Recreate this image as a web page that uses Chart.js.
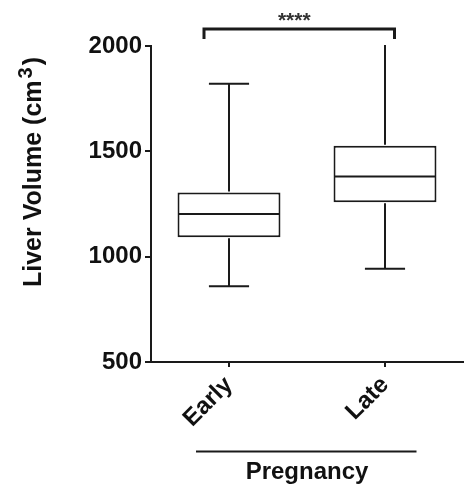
<!DOCTYPE html>
<html><head><meta charset="utf-8">
<script src="https://cdn.jsdelivr.net/npm/chart.js@4/dist/chart.umd.min.js"></script>
<style>html,body{margin:0;padding:0;background:#fff;}#wrap{width:464px;height:487px;}</style>
</head><body><div id="wrap"><canvas id="c" width="464" height="487"></canvas></div>
<script>
const categories = ['Early', 'Late'];
const whiskerMin = [860, 943];
const q1 = [1092, 1258];
const median = [1203, 1380];
const q3 = [1304, 1527];
const whiskerMax = [1821, 2020];
const yTicks = [500, 1000, 1500, 2000];
const yTitleMain = 'Liver Volume (cm';
const yTitleSup = '3';
const yTitleEnd = ')';
const xTitle = 'Pregnancy';
const significance = '****';

const FONT = "'Liberation Sans', Arial, Helvetica, sans-serif";
const INK = '#1a1a1a';

const boxPlugin = {
  id: 'boxWhiskers',
  afterDatasetsDraw(chart) {
    const {ctx, chartArea, scales} = chart;
    const y = scales.y;
    const meta = chart.getDatasetMeta(0);
    ctx.save();
    ctx.beginPath();
    ctx.rect(chartArea.left, chartArea.top - 1, chartArea.right - chartArea.left, chartArea.bottom - chartArea.top + 2);
    ctx.clip();
    ctx.strokeStyle = INK;
    ctx.lineWidth = 2;
    ctx.lineCap = 'butt';
    categories.forEach((c, i) => {
      const bar = meta.data[i];
      const cx = Math.round(bar.x);
      const half = bar.width / 2;
      const capHalf = bar.width * 0.195;
      const pMed = y.getPixelForValue(median[i]);
      const pQ1 = y.getPixelForValue(q1[i]);
      const pQ3 = y.getPixelForValue(q3[i]);
      const pMin = y.getPixelForValue(whiskerMin[i]);
      const pMax = y.getPixelForValue(whiskerMax[i]);
      ctx.beginPath();
      ctx.moveTo(cx - half + 1, pMed); ctx.lineTo(cx + half - 1, pMed);
      ctx.moveTo(cx, pQ3 - 1); ctx.lineTo(cx, pMax);
      ctx.moveTo(cx - capHalf, pMax); ctx.lineTo(cx + capHalf, pMax);
      ctx.moveTo(cx, pQ1 + 1); ctx.lineTo(cx, pMin);
      ctx.moveTo(cx - capHalf, pMin); ctx.lineTo(cx + capHalf, pMin);
      ctx.stroke();
    });
    ctx.restore();
  }
};

const annotPlugin = {
  id: 'annotations',
  afterDraw(chart) {
    const {ctx, chartArea, scales} = chart;
    const x = scales.x;
    const p0 = x.getPixelForValue(0);
    const p1 = x.getPixelForValue(1);
    ctx.save();
    ctx.strokeStyle = INK;
    // significance bracket
    const bx0 = p0 - 25, bx1 = p1 + 9.5;
    const by = chartArea.top - 17, legBottom = chartArea.top - 7;
    ctx.lineWidth = 3;
    ctx.lineJoin = 'miter';
    ctx.beginPath();
    ctx.moveTo(bx0, legBottom); ctx.lineTo(bx0, by); ctx.lineTo(bx1, by); ctx.lineTo(bx1, legBottom);
    ctx.stroke();
    ctx.fillStyle = '#333';
    ctx.font = 'bold 21px ' + FONT;
    ctx.textAlign = 'center';
    ctx.textBaseline = 'alphabetic';
    ctx.fillText(significance, (bx0 + bx1) / 2 - 5, chartArea.top - 19);
    // group line under category labels
    ctx.lineWidth = 2;
    ctx.beginPath();
    ctx.moveTo(p0 - 33, 451.5); ctx.lineTo(p1 + 31.5, 451.5);
    ctx.stroke();
    // y-axis title with superscript
    ctx.fillStyle = '#111';
    ctx.translate(41, 287);
    ctx.rotate(-Math.PI / 2);
    ctx.textAlign = 'left';
    ctx.font = 'bold 25px ' + FONT;
    const w1 = ctx.measureText(yTitleMain).width;
    ctx.fillText(yTitleMain, 0, 0);
    ctx.font = 'bold 20px ' + FONT;
    const w2 = ctx.measureText(yTitleSup).width;
    ctx.fillText(yTitleSup, w1 + 2, -9);
    ctx.font = 'bold 25px ' + FONT;
    ctx.fillText(yTitleEnd, w1 + w2 + 4, 0);
    ctx.restore();
  }
};

new Chart(document.getElementById('c'), {
  type: 'bar',
  data: {
    labels: categories,
    datasets: [{
      data: categories.map((c, i) => [q1[i], q3[i]]),
      backgroundColor: '#ffffff',
      borderColor: INK,
      borderWidth: 2,
      borderSkipped: false,
      barPercentage: 0.66,
      categoryPercentage: 1
    }]
  },
  options: {
    responsive: false,
    animation: false,
    devicePixelRatio: 1,
    layout: {padding: {top: 46, right: 1, left: 0, bottom: 0}},
    plugins: {legend: {display: false}, tooltip: {enabled: false}},
    scales: {
      x: {
        offset: true,
        grid: {display: true, drawOnChartArea: false, drawTicks: true, tickLength: 5, offset: false, color: INK, lineWidth: 2},
        border: {display: true, color: INK, width: 2},
        ticks: {minRotation: 45, maxRotation: 45, autoSkip: false, padding: 4, color: '#111',
                font: {family: FONT, size: 24, weight: 'bold'}},
        title: {display: true, text: xTitle, color: '#111', padding: {top: 0, bottom: 0},
                font: {family: FONT, size: 24, weight: 'bold'}},
        afterFit: s => { s.height = 125; }
      },
      y: {
        min: 500, max: 2000,
        afterBuildTicks: s => { s.ticks = yTicks.map(v => ({value: v})); },
        grid: {display: true, drawOnChartArea: false, drawTicks: true, tickLength: 6, color: INK, lineWidth: 2},
        border: {display: true, color: INK, width: 2},
        ticks: {padding: 3, color: '#111', font: {family: FONT, size: 24, weight: 'bold'},
                callback: v => String(v)},
        afterFit: s => { s.width = 151; }
      }
    }
  },
  plugins: [boxPlugin, annotPlugin]
});
</script>
</body></html>
